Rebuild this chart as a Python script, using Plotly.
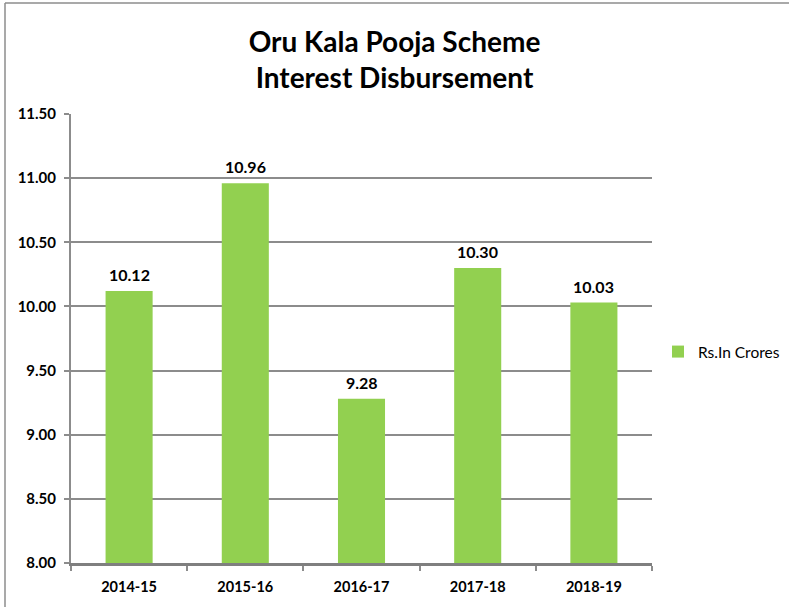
import plotly.graph_objects as go

years = ["2014-15", "2015-16", "2016-17", "2017-18", "2018-19"]
values = [10.12, 10.96, 9.28, 10.30, 10.03]
series_name = "Rs.In Crores"
title_lines = ["Oru Kala Pooja Scheme", "Interest Disbursement"]
y_ticks = [8.0, 8.5, 9.0, 9.5, 10.0, 10.5, 11.0, 11.5]

FONT = "Lato"
GREEN = "#92D050"
GRAY = "#8C8C8C"

W, H = 789, 607
L, R, T, B = 71, 137, 114, 44
pw, ph = W - L - R, H - T - B

fig = go.Figure()
fig.add_trace(go.Bar(
    x=years, y=values, name=series_name,
    marker=dict(color=GREEN, line=dict(width=0)),
))

for yr, v in zip(years, values):
    fig.add_annotation(x=yr, y=v, text=f"{v:.2f}", showarrow=False,
                       yanchor="bottom", yshift=5,
                       font=dict(family=FONT, size=16, color="#000000", weight="bold"))

fig.update_layout(
    width=W, height=H,
    margin=dict(l=L, r=R, t=T, b=B, autoexpand=False),
    paper_bgcolor="white", plot_bgcolor="white",
    bargap=0.595,
    showlegend=True,
    legend=dict(x=(658 - L) / pw, xanchor="left", y=(H - B - 352) / ph, yanchor="middle",
                font=dict(family=FONT, size=15.5, color="#000000"),
                itemwidth=30, bgcolor="rgba(0,0,0,0)"),
    title=dict(text="<br>".join(title_lines), x=0.5, xanchor="center", xref="container",
               y=1 - 52 / H, yanchor="middle",
               font=dict(family=FONT, size=28, color="#000000", weight="bold")),
)
fig.update_yaxes(range=[8.0, 11.5], tickvals=y_ticks, tickformat=".2f",
                 showgrid=True, gridcolor=GRAY, gridwidth=2,
                 showline=True, linecolor=GRAY, linewidth=2,
                 ticks="outside", ticklen=5, tickcolor=GRAY, tickwidth=2,
                 ticklabelstandoff=5,
                 tickfont=dict(family=FONT, size=15, color="#000000", weight="bold"),
                 zeroline=False, fixedrange=True)
fig.update_xaxes(showline=True, linecolor="#7F7F7F", linewidth=3,
                 ticks="outside", ticklen=5, tickcolor=GRAY, tickwidth=2,
                 tickson="boundaries", ticklabelstandoff=9,
                 tickfont=dict(family=FONT, size=14.5, color="#000000", weight="bold"),
                 fixedrange=True)

# outer chart border (top and left edges visible)
fig.add_shape(type="line", xref="paper", yref="paper",
              x0=(5 - L) / pw, x1=(W - L) / pw, y0=(H - B - 3) / ph, y1=(H - B - 3) / ph,
              line=dict(color=GRAY, width=1.5))
fig.add_shape(type="line", xref="paper", yref="paper",
              x0=(5 - L) / pw, x1=(5 - L) / pw, y0=-B / ph, y1=(H - B - 3) / ph,
              line=dict(color=GRAY, width=1.5))

fig.write_html("out.html", config={"displayModeBar": False},
               post_script="document.body.style.margin='0';document.body.style.overflow='hidden';")
